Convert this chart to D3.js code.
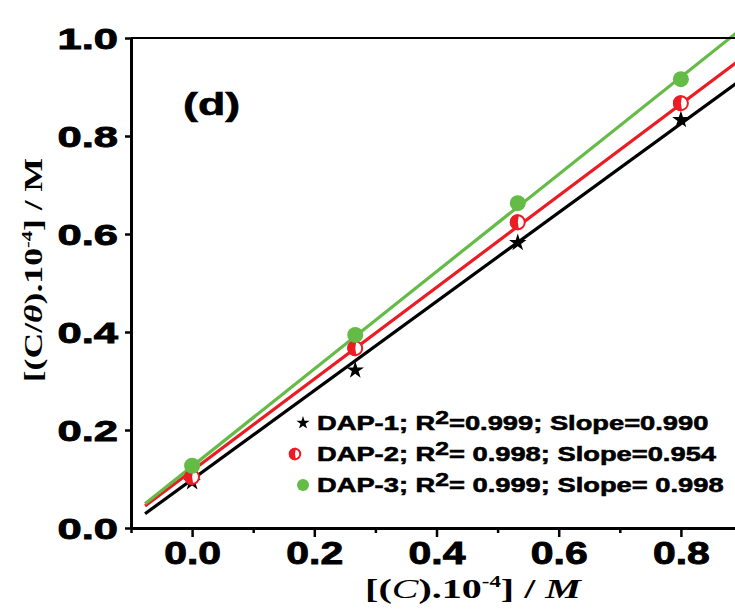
<!DOCTYPE html>
<html>
<head>
<meta charset="utf-8">
<script src="https://cdn.jsdelivr.net/npm/d3@7"></script>
<style>
  body { margin: 0; background: #fff; }
  svg { display: block; }
  .tick text { font-family: "Liberation Sans", Arial, sans-serif; font-weight: bold; fill: #000;
               stroke: #000; stroke-width: 0.9px; }
  .heavy { stroke: #000; stroke-width: 0.6px; }
</style>
</head>
<body>
<div id="chart"></div>
<script>
'use strict';

// --- data -----------------------------------------------------------------
const concX = [0, 0.267, 0.533, 0.8];               // [(C).10^-4] / M
const dap1 = [0.094, 0.322, 0.582, 0.833];
const dap2 = [0.104, 0.367, 0.624, 0.867];
const dap3 = [0.127, 0.394, 0.663, 0.916];

const seriesNames = ['DAP-1', 'DAP-2', 'DAP-3'];
const seriesColors = ['#000000', '#ec1c24', '#64bb46'];
const legendLabels = [
    ['DAP-1; R', '=0.999; Slope=0.990'],
    ['DAP-2; R', '= 0.998; Slope=0.954'],
    ['DAP-3; R', '= 0.999; Slope= 0.998']
];

// fitted lines (intercept, slope) as drawn in the figure
const fitIntercept = [0.099, 0.117, 0.126];
const fitSlope = [0.908, 0.935, 0.993];
const fitRange = [-0.077, 0.9];

const xMajorTicks = [0, 0.2, 0.4, 0.6, 0.8];
const xMinorTicks = [-0.1, 0.1, 0.3, 0.5, 0.7, 0.9];
const yTicks = [0, 0.2, 0.4, 0.6, 0.8, 1.0];

// --- layout ---------------------------------------------------------------
const W = 735, H = 611;
const x = d3.scaleLinear().domain([-0.1, 0.9]).range([131, 742]);
const y = d3.scaleLinear().domain([0, 1]).range([528, 38]);

const svg = d3.select('#chart').append('svg')
    .attr('width', W).attr('height', H).attr('viewBox', `0 0 ${W} ${H}`);

svg.append('rect').attr('width', W).attr('height', H).attr('fill', '#fff');

const plot = svg.append('g');

// fit lines
const line = d3.line().x(d => x(d[0])).y(d => y(d[1]));
seriesNames.forEach((name, i) => {
    const pts = fitRange.map(v => [v, fitIntercept[i] + fitSlope[i] * v]);
    plot.append('path')
        .attr('d', line(pts))
        .attr('fill', 'none')
        .attr('stroke', seriesColors[i])
        .attr('stroke-width', 3.2);
});

// markers
function drawMarker(g, i, cx, cy, scale) {
    const s = scale || 1;
    if (i === 0) {
        g.append('path')
            .attr('d', d3.symbol().type(d3.symbolStar).size(95 * s * s)())
            .attr('transform', `translate(${cx},${cy})`)
            .attr('fill', seriesColors[0]);
    } else if (i === 1) {
        const r = 7 * s;
        g.append('circle').attr('cx', cx).attr('cy', cy).attr('r', r)
            .attr('fill', '#fff').attr('stroke', seriesColors[1]).attr('stroke-width', 2);
        g.append('path')
            .attr('d', d3.arc().innerRadius(0).outerRadius(r + 1)
                .startAngle(Math.PI * 0.95).endAngle(Math.PI * 2.05)())
            .attr('transform', `translate(${cx},${cy})`)
            .attr('fill', seriesColors[1]);
    } else {
        g.append('circle').attr('cx', cx).attr('cy', cy).attr('r', 8 * s)
            .attr('fill', seriesColors[2]);
    }
}

[dap1, dap2, dap3].forEach((vals, i) => {
    vals.forEach((v, j) => drawMarker(plot, i, x(concX[j]), y(v)));
});

// frame (top / right)
svg.append('path')
    .attr('d', `M${x(-0.1)},${y(1)}H${x(0.9)}V${y(0)}`)
    .attr('fill', 'none').attr('stroke', '#000').attr('stroke-width', 2);

// axes
const fmt = d3.format('.1f');
const yAxis = svg.append('g').attr('transform', `translate(${x(-0.1)},0)`)
    .call(d3.axisLeft(y).tickValues(yTicks).tickFormat(fmt).tickSize(6).tickSizeOuter(0));
yAxis.selectAll('.tick text')
    .attr('font-size', 30).attr('x', -9).attr('dy', '0.36em')
    .attr('transform', 'scale(1.45,1)');

const xAxisMinor = svg.append('g').attr('transform', `translate(0,${y(0)})`)
    .call(d3.axisBottom(x).tickValues(xMinorTicks).tickFormat('').tickSize(5).tickSizeOuter(0));
const xAxis = svg.append('g').attr('transform', `translate(0,${y(0)})`)
    .call(d3.axisBottom(x).tickValues(xMajorTicks).tickFormat(fmt).tickSize(9).tickSizeOuter(0));
xAxis.selectAll('.tick text')
    .attr('font-size', 32).attr('y', 36).attr('dy', 0)
    .attr('transform', 'scale(1.28,1)');

svg.selectAll('.domain').attr('stroke-width', 3);
svg.selectAll('.tick line').attr('stroke-width', 2.5);

// axis titles
const yTitle = svg.append('text')
    .attr('transform', 'translate(42,270) rotate(-90) scale(1.37,1)')
    .attr('text-anchor', 'middle')
    .attr('font-family', '"Liberation Serif", "Times New Roman", serif')
    .attr('font-weight', 'bold').attr('font-size', 26);
yTitle.append('tspan').text('[(C/');
yTitle.append('tspan').attr('font-style', 'italic').text('θ');
yTitle.append('tspan').text(').10');
yTitle.append('tspan').attr('font-size', 15).attr('dy', -10).text('-4');
yTitle.append('tspan').attr('dy', 10).text('] / M');

const xTitle = svg.append('text')
    .attr('transform', 'translate(473,598) scale(1.43,1)')
    .attr('text-anchor', 'middle')
    .attr('font-family', '"Liberation Serif", "Times New Roman", serif')
    .attr('font-weight', 'bold').attr('font-size', 28);
xTitle.append('tspan').text('[(');
xTitle.append('tspan').attr('font-style', 'italic').attr('font-weight', 'normal').text('C');
xTitle.append('tspan').text(').10');
xTitle.append('tspan').attr('font-size', 16).attr('dy', -11).text('-4');
xTitle.append('tspan').attr('dy', 11).text('] / ');
xTitle.append('tspan').attr('font-style', 'italic').text('M');

// panel label
svg.append('text')
    .attr('class', 'heavy')
    .attr('transform', 'translate(183,115) scale(1.4,1)')
    .attr('font-family', '"Liberation Sans", Arial, sans-serif')
    .attr('font-weight', 'bold').attr('font-size', 32)
    .text('(d)');

// legend
const legendY = [430, 461, 492];
const markerX = [303, 295, 303];
legendLabels.forEach((parts, i) => {
    drawMarker(svg, i, markerX[i], legendY[i] - 7, 0.75);
    const t = svg.append('text')
        .attr('class', 'heavy')
        .attr('transform', `translate(317,${legendY[i]}) scale(1.3,1)`)
        .attr('font-family', '"Liberation Sans", Arial, sans-serif')
        .attr('font-weight', 'bold').attr('font-size', 21);
    t.append('tspan').text(parts[0]);
    t.append('tspan').attr('font-size', 19).attr('dy', -6).text('2');
    t.append('tspan').attr('dy', 6).text(parts[1]);
});
</script>
</body>
</html>
